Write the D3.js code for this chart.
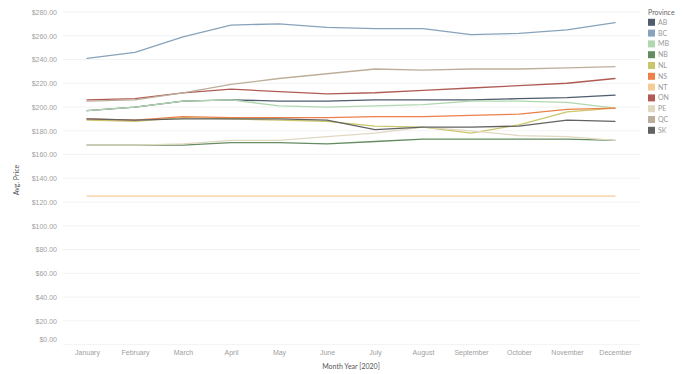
<!DOCTYPE html>
<html>
<head>
<meta charset="utf-8">
<script src="https://cdn.jsdelivr.net/npm/d3@7"></script>
<style>
  html, body { margin: 0; padding: 0; background: #fff; }
  svg { display: block; font-family: "Lato", "Noto Sans", sans-serif; }
</style>
</head>
<body>
<svg id="chart" width="686" height="374"></svg>
<script>
// Average price by province, monthly, 2020
const months = ["January", "February", "March", "April", "May", "June",
                "July", "August", "September", "October", "November", "December"];
const provinces = ["AB", "BC", "MB", "NB", "NL", "NS", "NT", "ON", "PE", "QC", "SK"];
const yTicks = [0, 20, 40, 60, 80, 100, 120, 140, 160, 180, 200, 220, 240, 260, 280];

const AB = [197, 200, 205, 206, 205, 205, 206, 206, 206, 207, 208, 210];
const BC = [241, 246, 259, 269, 270, 267, 266, 266, 261, 262, 265, 271];
const MB = [197, 200, 205, 206, 201, 200, 201, 202, 205, 205, 204, 199];
const NB = [168, 168, 168, 170, 170, 169, 171, 173, 173, 173, 173, 172];
const NL = [189, 188, 191, 190, 189, 188, 184, 183, 178, 185, 196, 199];
const NS = [190, 189, 192, 191, 191, 191, 192, 192, 193, 194, 198, 199];
const NT = [125, 125, 125, 125, 125, 125, 125, 125, 125, 125, 125, 125];
const ON = [206, 207, 212, 215, 213, 211, 212, 214, 216, 218, 220, 224];
const PE = [168, 168, 169, 172, 172, 175, 178, 183, 180, 176, 175, 172];
const QC = [205, 206, 212, 219, 224, 228, 232, 231, 232, 232, 233, 234];
const SK = [190, 189, 190, 190, 190, 189, 181, 183, 183, 184, 189, 188];

const seriesValues = { AB, BC, MB, NB, NL, NS, NT, ON, PE, QC, SK };
const colors = ["#4e5c6c", "#87a3bc", "#b0d8b0", "#648c60", "#cac66c", "#ec8048",
                "#f4cc98", "#b05c54", "#e0d8c0", "#bdae9c", "#626262"];

const svg = d3.select("#chart");
const x = d3.scalePoint().domain(months).range([87, 615]);
const y = d3.scaleLinear().domain([0, 280]).range([344.6, 12]);
const color = d3.scaleOrdinal().domain(provinces).range(colors);

// Horizontal gridlines
svg.append("g")
  .selectAll("line")
  .data(yTicks)
  .join("line")
  .attr("x1", 63).attr("x2", 640)
  .attr("y1", d => y(d)).attr("y2", d => y(d))
  .attr("stroke", "#f3f3f3").attr("stroke-width", 1);

// Y axis
const yAxis = svg.append("g")
  .attr("transform", "translate(60,0)")
  .call(d3.axisLeft(y).tickValues(yTicks).tickSize(0).tickPadding(3)
        .tickFormat(d => "$" + d3.format(",.2f")(d)));
yAxis.select(".domain").remove();
yAxis.selectAll("text")
  .attr("fill", "#a0a0a0").attr("font-size", 7)
  .attr("dy", d => d === 0 ? "-0.4em" : "0.32em");

// X axis
const xAxis = svg.append("g")
  .attr("transform", "translate(0,347)")
  .call(d3.axisBottom(x).tickSize(0).tickPadding(3));
xAxis.select(".domain").remove();
xAxis.selectAll("text").attr("fill", "#a0a0a0").attr("font-size", 7);

// Axis titles
svg.append("text")
  .attr("x", 351).attr("y", 369)
  .attr("text-anchor", "middle")
  .attr("font-size", 7).attr("fill", "#555")
  .text("Month Year [2020]");

svg.append("text")
  .attr("transform", "translate(19,180) rotate(-90)")
  .attr("text-anchor", "middle")
  .attr("font-size", 7).attr("fill", "#555")
  .text("Avg. Price");

// Lines
const line = d3.line()
  .x((d, i) => x(months[i]))
  .y(d => y(d));

svg.append("g")
  .selectAll("path")
  .data(provinces)
  .join("path")
  .attr("d", p => line(seriesValues[p]))
  .attr("fill", "none")
  .attr("stroke", p => color(p))
  .attr("stroke-width", 1.3)
  .attr("stroke-linejoin", "round")
  .attr("stroke-linecap", "round");

// Legend
const legend = svg.append("g").attr("transform", "translate(648,0)");
legend.append("text")
  .attr("x", 0).attr("y", 15)
  .attr("font-size", 7).attr("fill", "#666")
  .text("Province");
const items = legend.selectAll("g.item")
  .data(provinces)
  .join("g")
  .attr("class", "item")
  .attr("transform", (d, i) => `translate(0,${22.3 + i * 10.8})`);
items.append("rect")
  .attr("x", 0).attr("y", -3.5)
  .attr("width", 7).attr("height", 7)
  .attr("fill", d => color(d));
items.append("text")
  .attr("x", 10).attr("y", 0).attr("dy", "0.35em")
  .attr("font-size", 7).attr("fill", "#999")
  .text(d => d);
</script>
</body>
</html>
